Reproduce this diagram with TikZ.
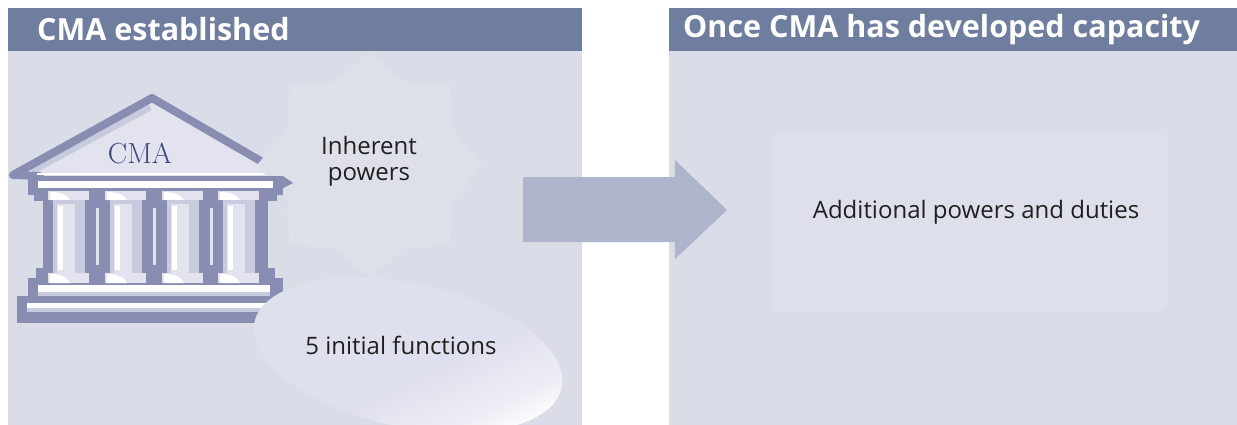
\documentclass[tikz,border=0pt]{standalone}
\usepackage{fontspec}
\newfontfamily\sansfont{Open Sans}
\usepackage{tikz}
\usetikzlibrary{shapes.geometric}

\definecolor{hdrblue}{RGB}{111,126,158}
\definecolor{panelgrey}{RGB}{218,221,231}
\definecolor{arrowblue}{RGB}{175,180,205}
\definecolor{bldgdark}{RGB}{138,141,178}
\definecolor{bldgmid}{RGB}{200,202,222}
\definecolor{bldglight}{RGB}{226,227,238}
\definecolor{cmatext}{RGB}{60,70,122}
\definecolor{startint}{RGB}{221,223,233}
\definecolor{boxtint}{RGB}{221,223,234}
\definecolor{blobtint}{RGB}{223,224,237}
\definecolor{txtdark}{RGB}{35,31,32}

\pgfdeclarehorizontalshading{blobshade}{100bp}{color(0bp)=(blobtint); color(56bp)=(blobtint); color(69bp)=(blobtint!55!white); color(76bp)=(white); color(100bp)=(white)}

\tikzset{
    header/.style={anchor=west, inner sep=0pt, text=white, font=\sansfont\bfseries\fontsize{30.5}{33}\selectfont},
    bodytext/.style={inner sep=0pt, align=center, text=txtdark, font=\sansfont\fontsize{24}{26}\selectfont},
}

\begin{document}
\begin{tikzpicture}[x=1pt, y=-1pt]

            \useasboundingbox (0,0) rectangle (1237,425);

            \fill[panelgrey] (8,8) rectangle (582,425);
            \fill[hdrblue] (8,8) rectangle (582,51);
            \fill[panelgrey] (669,8) rectangle (1237,425);
            \fill[hdrblue] (669,8) rectangle (1237,51);

            \node[header] (hdrleft) at (37,29.5) {CMA established};
            \node[header] (hdrright) at (683,29.5) {Once CMA has developed capacity};

            \node[fill=boxtint, rounded corners=10pt, minimum width=398pt, minimum height=180pt, inner sep=0pt] (dutiesbox) at (969,222) {};
            \node[bodytext] (additional) at (976,212) {Additional powers and duties};

            \fill[bldglight] (13,175) -- (152,98) -- (290,178) -- cycle;
            \draw[bldgmid, line width=7pt] (32,171) -- (150,107);
            \draw[bldgdark, line width=8pt, line join=round, line cap=round] (40,176) -- (13,175) -- (152,98) -- (290,178);
            \draw[white, line width=2pt] (37,174) -- (275,174);

            \node[star, star points=8, star point ratio=1.25, minimum size=226pt, inner sep=0pt, fill=startint] (powersstar) at (370,165) {};

            \fill[bldgdark] (28,176) rectangle (283,195);
            \fill[bldgdark] (283,176) -- (293,183) -- (283,188) -- cycle;
            \fill[bldgdark] (34,195) rectangle (277,201);
            \fill[bldgdark] (43,201) rectangle (268,268);
            \fill[bldgdark] (36,268) rectangle (275,278);
            \fill[bldgdark] (28,278) rectangle (283,296);
            \fill[bldgdark] (17,296) rectangle (294,323);

            \fill[white] (38,181) rectangle (273,188);
            \fill[white] (38,285) rectangle (270,292);
            \fill[bldgmid] (38,292) rectangle (270,296);
            \fill[white] (27,303) rectangle (287,308);
            \fill[bldgmid] (27,308) rectangle (287,312);

            \foreach \cx in {48,105,162,218} {
                \fill[bldglight] (\cx,191) rectangle ++(41,9);
                \fill[white] (\cx+2,192) .. controls (\cx+14,192) and (\cx+20,196) .. (\cx+22,200) -- (\cx+2,200) -- cycle;
                \fill[bldgmid] (\cx+5,200) rectangle (\cx+37,273);
                \fill[bldglight] (\cx+9,204) rectangle (\cx+27,273);
                \fill[white] (\cx+10,206) rectangle (\cx+15,270);
                \fill[bldglight] (\cx,273) rectangle ++(41,10);
                \fill[white] (\cx+2,274) .. controls (\cx+14,274) and (\cx+20,278) .. (\cx+22,283) -- (\cx+2,283) -- cycle;
            }
            \foreach \sx in {96,153,210}
                \fill[bldglight] (\sx,208) rectangle ++(3,57);

            \node[inner sep=0pt, text=cmatext, font=\rmfamily\fontsize{29}{30}\selectfont] (cmalabel) at (140,153) {CMA};

            \begin{scope}[shift={(408,355)}, rotate=-12]
                \shade[shading=blobshade, shading angle=295] (0,0) ellipse [x radius=157, y radius=72];
            \end{scope}

            \node[bodytext] (inherent) at (369,161) {Inherent\\powers};
            \node[bodytext] (initial) at (401,345) {5 initial functions};

            \fill[arrowblue] (523,177) -- (675,177) -- (675,160) -- (727,210) -- (675,259) -- (675,242) -- (523,242) -- cycle;

\end{tikzpicture}
\end{document}
